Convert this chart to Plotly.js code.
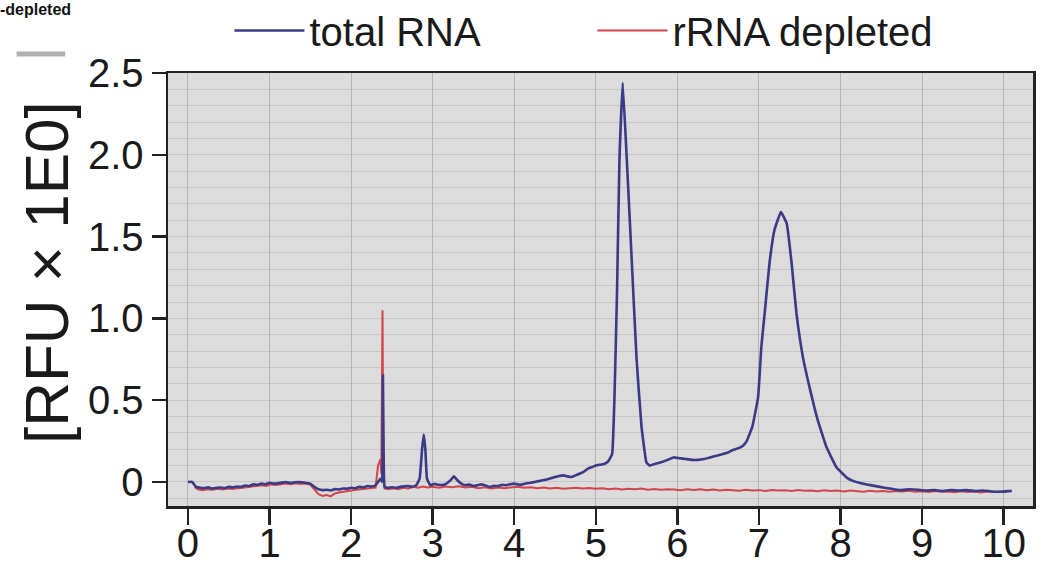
<!DOCTYPE html>
<html>
<head>
<meta charset="utf-8">
<script src="https://cdn.plot.ly/plotly-3.0.1.min.js"></script>
<style>html,body{margin:0;padding:0;background:#fff;}#chart{width:1046px;height:565px;}</style>
</head>
<body>
<div id="chart"></div>
<script>
// Electropherogram readings (time, RFU)
const totalX = [0.00,0.05,0.10,0.15,0.20,0.25,0.30,0.35,0.40,0.45,0.50,0.55,0.60,0.65,0.70,0.75,0.80,0.85,0.90,0.95,1.00,1.05,1.10,1.15,1.20,1.25,1.30,1.35,1.40,1.45,1.50,1.55,1.60,1.65,1.70,1.75,1.80,1.85,1.90,1.95,2.00,2.05,2.10,2.15,2.20,2.25,2.30,2.33,2.36,2.38,2.39,2.40,2.41,2.45,2.50,2.55,2.60,2.65,2.70,2.75,2.80,2.84,2.87,2.89,2.91,2.93,2.97,3.02,3.08,3.15,3.22,3.26,3.30,3.35,3.40,3.45,3.50,3.55,3.60,3.65,3.70,3.75,3.80,3.85,3.90,3.95,4.00,4.05,4.10,4.15,4.20,4.25,4.30,4.35,4.40,4.45,4.50,4.55,4.60,4.65,4.70,4.75,4.80,4.85,4.90,4.95,5.00,5.05,5.10,5.15,5.20,5.23,5.26,5.29,5.33,5.38,5.44,5.50,5.56,5.62,5.66,5.72,5.80,5.88,5.95,6.03,6.10,6.18,6.25,6.33,6.40,6.48,6.55,6.62,6.68,6.74,6.80,6.85,6.92,6.99,7.03,7.07,7.13,7.19,7.27,7.34,7.40,7.46,7.54,7.62,7.72,7.83,7.95,8.08,8.16,8.24,8.35,8.48,8.60,8.73,8.85,8.95,9.05,9.15,9.25,9.35,9.45,9.55,9.65,9.75,9.85,9.95,10.05,10.10];
const totalY = [0.000,0.000,-0.030,-0.035,-0.038,-0.033,-0.040,-0.036,-0.034,-0.038,-0.030,-0.033,-0.028,-0.030,-0.022,-0.025,-0.015,-0.018,-0.010,-0.014,-0.005,-0.010,-0.008,-0.004,0.000,-0.006,-0.003,0.000,-0.002,-0.006,-0.010,-0.030,-0.045,-0.050,-0.048,-0.052,-0.044,-0.046,-0.040,-0.042,-0.035,-0.038,-0.030,-0.033,-0.025,-0.028,-0.020,0.000,0.020,0.000,0.650,0.100,-0.030,-0.035,-0.032,-0.036,-0.030,-0.027,-0.025,-0.030,-0.020,0.020,0.200,0.290,0.200,0.020,-0.020,-0.012,-0.018,-0.015,0.010,0.035,0.012,-0.010,-0.020,-0.016,-0.025,-0.020,-0.015,-0.022,-0.030,-0.024,-0.025,-0.018,-0.020,-0.014,-0.010,-0.016,-0.015,-0.008,-0.005,0.000,0.005,0.010,0.015,0.022,0.030,0.036,0.040,0.034,0.030,0.040,0.050,0.062,0.080,0.090,0.100,0.105,0.110,0.125,0.170,0.540,1.160,1.970,2.440,1.970,1.360,0.750,0.340,0.120,0.100,0.110,0.120,0.135,0.150,0.145,0.140,0.135,0.135,0.140,0.150,0.160,0.170,0.180,0.195,0.205,0.220,0.250,0.340,0.520,0.830,1.030,1.340,1.540,1.650,1.580,1.340,1.030,0.760,0.580,0.380,0.210,0.090,0.025,0.005,-0.006,-0.018,-0.030,-0.040,-0.050,-0.045,-0.048,-0.052,-0.050,-0.055,-0.050,-0.053,-0.050,-0.056,-0.052,-0.058,-0.060,-0.056,-0.055];

const deplX = [0.08,0.12,0.18,0.24,0.30,0.36,0.42,0.48,0.54,0.60,0.66,0.72,0.78,0.84,0.90,0.96,1.02,1.08,1.14,1.20,1.26,1.32,1.38,1.44,1.50,1.55,1.60,1.65,1.70,1.75,1.80,1.85,1.90,1.95,2.00,2.06,2.12,2.18,2.24,2.30,2.33,2.36,2.37,2.385,2.395,2.41,2.46,2.52,2.58,2.64,2.70,2.76,2.82,2.88,2.94,3.00,3.08,3.16,3.24,3.32,3.40,3.48,3.56,3.64,3.72,3.80,3.88,3.96,4.04,4.12,4.20,4.28,4.36,4.44,4.52,4.60,4.68,4.76,4.84,4.92,5.00,5.08,5.16,5.24,5.32,5.40,5.48,5.56,5.64,5.72,5.80,5.88,5.96,6.04,6.12,6.20,6.28,6.36,6.44,6.52,6.60,6.68,6.76,6.84,6.92,7.00,7.08,7.16,7.24,7.32,7.40,7.48,7.56,7.64,7.72,7.80,7.88,7.96,8.04,8.12,8.20,8.28,8.36,8.44,8.52,8.60,8.68,8.76,8.84,8.92,9.00,9.08,9.16,9.24,9.32,9.40,9.48,9.56,9.64,9.72,9.80,9.88,9.96,10.04,10.10];
const deplY = [-0.030,-0.045,-0.050,-0.044,-0.048,-0.042,-0.046,-0.040,-0.043,-0.038,-0.036,-0.032,-0.028,-0.025,-0.020,-0.024,-0.015,-0.018,-0.012,-0.010,-0.014,-0.008,-0.012,-0.010,-0.018,-0.050,-0.075,-0.085,-0.080,-0.088,-0.070,-0.065,-0.060,-0.055,-0.050,-0.048,-0.045,-0.042,-0.040,-0.035,0.100,0.140,0.050,1.050,0.100,-0.040,-0.045,-0.038,-0.044,-0.035,-0.040,-0.030,-0.036,-0.028,-0.034,-0.030,-0.036,-0.028,-0.032,-0.026,-0.034,-0.030,-0.038,-0.032,-0.040,-0.034,-0.038,-0.035,-0.030,-0.036,-0.032,-0.038,-0.034,-0.040,-0.036,-0.042,-0.038,-0.035,-0.040,-0.037,-0.042,-0.038,-0.044,-0.040,-0.046,-0.042,-0.045,-0.040,-0.047,-0.043,-0.048,-0.044,-0.046,-0.050,-0.045,-0.049,-0.044,-0.050,-0.046,-0.052,-0.047,-0.050,-0.054,-0.048,-0.052,-0.050,-0.055,-0.049,-0.053,-0.051,-0.056,-0.050,-0.054,-0.052,-0.057,-0.051,-0.055,-0.053,-0.058,-0.052,-0.056,-0.060,-0.054,-0.058,-0.055,-0.060,-0.056,-0.059,-0.054,-0.060,-0.057,-0.062,-0.056,-0.060,-0.058,-0.063,-0.057,-0.061,-0.059,-0.064,-0.058,-0.062,-0.060,-0.062];

const yTickVals = [0, 0.5, 1.0, 1.5, 2.0, 2.5];
const yTickText = ['0', '0.5', '1.0', '1.5', '2.0', '2.5'];
const xTickVals = [0,1,2,3,4,5,6,7,8,9,10];
const seriesNames = ['total RNA', 'rRNA depleted'];
const yTitle = '[RFU × 1E0]';

const FONT = 'Liberation Sans, Arial, sans-serif';

// red drawn first so the blue trace lies on top of it, as in the reference
const traces = [
  {x: deplX, y: deplY, type: 'scatter', mode: 'lines', name: seriesNames[1],
   line: {color: '#d2454a', width: 2}},
  {x: totalX, y: totalY, type: 'scatter', mode: 'lines', name: seriesNames[0],
   line: {color: '#3b3a86', width: 2.6, shape: 'spline', smoothing: 0.3}}
];

const layout = {
  width: 1046, height: 565,
  margin: {l: 168, r: 13, t: 73, b: 59, autoexpand: false},
  paper_bgcolor: '#ffffff',
  plot_bgcolor: '#dcdcdc',
  font: {family: FONT, color: '#1a1a1a', size: 40},
  showlegend: true,
  legend: {orientation: 'h', x: 0.071, xanchor: 'left', y: 1.023, yanchor: 'bottom',
           font: {size: 40, family: FONT, color: '#1a1a1a'}, traceorder: 'reversed',
           bgcolor: 'rgba(0,0,0,0)', entrywidth: 278, itemwidth: 70},
  xaxis: {range: [-0.245, 10.36], tickvals: xTickVals, ticktext: xTickVals.map(String),
          showline: true, mirror: true, linecolor: '#222', linewidth: 2.5,
          ticks: 'outside', ticklen: 16, tickwidth: 2.5, tickcolor: '#222',
          ticklabelstandoff: -16,
          showgrid: true, gridcolor: '#b4b4b4', gridwidth: 1, zeroline: false,
          tickfont: {size: 40, family: FONT, color: '#1a1a1a'}},
  yaxis: {range: [-0.147, 2.5], tickvals: yTickVals, ticktext: yTickText,
          showline: true, mirror: true, linecolor: '#222', linewidth: 2.5,
          ticks: 'outside', ticklen: 14, tickwidth: 2.5, tickcolor: '#222',
          showgrid: false, zeroline: false,
          minor: {dtick: 0.1, showgrid: true, gridcolor: '#c6c6c6', gridwidth: 1, ticks: ''},
          tickfont: {size: 40, family: FONT, color: '#1a1a1a'}},
  annotations: [
    {xref: 'paper', yref: 'paper', x: -0.141, y: 0.538, xanchor: 'center', yanchor: 'middle',
     text: yTitle, textangle: -90, showarrow: false,
     font: {size: 62, family: FONT, color: '#1a1a1a'}},
    {xref: 'paper', yref: 'paper', x: -0.196, y: 1.172, xanchor: 'left', yanchor: 'top',
     text: '<b>-depleted</b>', showarrow: false,
     font: {size: 16, family: 'Liberation Sans Narrow, Liberation Sans, sans-serif', color: '#111'}}
  ],
  shapes: [
    {type: 'line', xref: 'paper', yref: 'paper', x0: -0.175, x1: -0.119, y0: 1.044, y1: 1.044,
     line: {color: '#b0b0b0', width: 5}}
  ]
};

Plotly.newPlot('chart', traces, layout, {displayModeBar: false, staticPlot: true});
</script>
</body>
</html>
